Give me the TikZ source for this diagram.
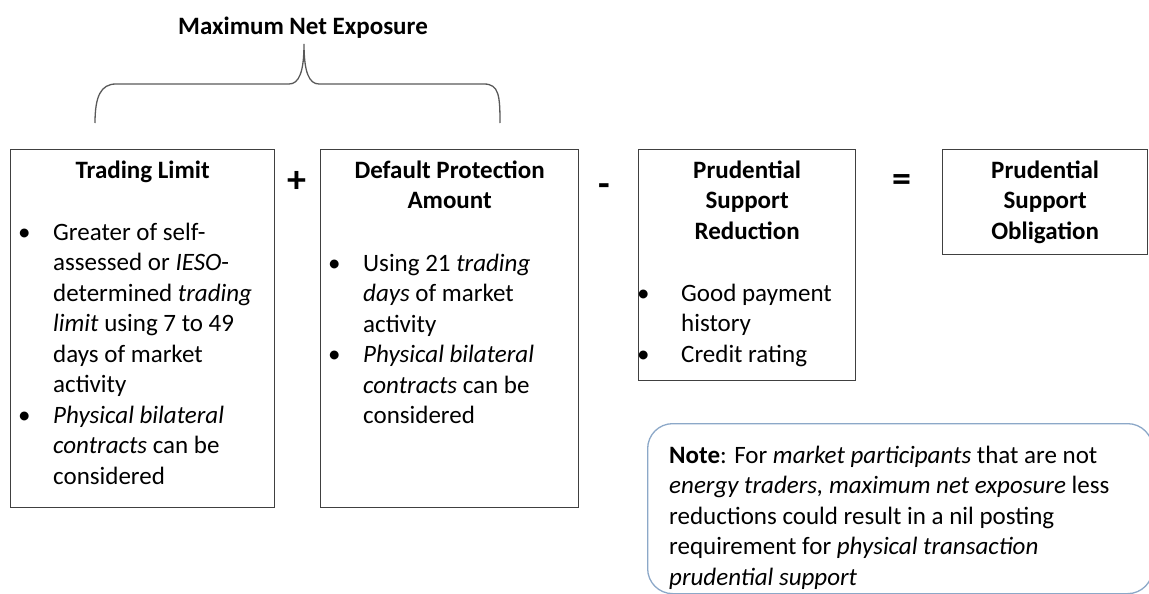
\documentclass[tikz,border=0pt]{standalone}
\usepackage{fontspec}
\setmainfont{Carlito}
\usetikzlibrary{positioning}
\definecolor{boxline}{RGB}{64,64,64}
\definecolor{braceline}{RGB}{89,89,89}
\definecolor{noteline}{RGB}{140,168,200}

\tikzstyle{block} = [rectangle, draw=boxline, line width=1.3pt, anchor=north west, inner sep=0pt]
\tikzstyle{head} = [font=\bfseries\fontsize{25}{30.5}\selectfont, align=flush center, anchor=base, inner sep=0pt,
	execute at begin node={\spaceskip=0pt\xspaceskip=0pt}]
\tikzstyle{items} = [font=\fontsize{25}{30.5}\selectfont, align=flush left, anchor=base west, inner sep=0pt,
	execute at begin node={\spaceskip=0pt\xspaceskip=0pt}]
\tikzstyle{sign} = [font=\bfseries\fontsize{38}{40}\selectfont, inner sep=0pt]

\newcommand{\bul}[1]{\noindent\llap{\makebox[#1pt][l]{\textbullet}}}

\begin{document}
\begin{tikzpicture}[x=1pt,y=-1pt]
	\useasboundingbox (0,0) rectangle (1149,594);
	% Cajas
	\node[block, minimum width=264pt, minimum height=358pt] (limit) at (10,149) {};
	\node[block, minimum width=258pt, minimum height=358pt] (dpa) at (320,149) {};
	\node[block, minimum width=217pt, minimum height=231pt] (psr) at (638,149) {};
	\node[block, minimum width=205pt, minimum height=105pt] (pso) at (942,149) {};
	% Titulos
	\node[head, text width=250pt] (limittitle) at ([yshift=-29pt]limit.north) {Trading Limit};
	\node[head, text width=250pt] (dpatitle) at ([yshift=-29pt]dpa.north) {Default Protection\\Amount};
	\node[head, text width=210pt] (psrtitle) at ([yshift=-29pt]psr.north) {Prudential\\Support\\Reduction};
	\node[head, text width=200pt] (psotitle) at ([yshift=-29pt]pso.north) {Prudential\\Support\\Obligation};
	% Listas
	\node[items, text width=218pt] (limitlist) at ([xshift=43pt, yshift=-91pt]limit.north west) {%
		\bul{35}Greater of self-\\assessed or \textit{IESO}-\\determined \textit{trading}\\\textit{limit} using 7 to 49\\days of market\\activity\par
		\bul{35}\textit{Physical bilateral}\\\textit{contracts} can be\\considered};
	\node[items, text width=212pt] (dpalist) at ([xshift=43pt, yshift=-122pt]dpa.north west) {%
		\bul{35}Using 21 \textit{trading}\\\textit{days} of market\\activity\par
		\bul{35}\textit{Physical bilateral}\\\textit{contracts} can be\\considered};
	\node[items, text width=170pt] (psrlist) at ([xshift=43pt, yshift=-152pt]psr.north west) {%
		\bul{44}Good payment\\history\par
		\bul{44}Credit rating};
	% Signos
	\node[sign] (plus) at (297,182) {+};
	\node[sign] (minus) at (604,190) {-};
	\node[sign] (equals) at (902,183) {=};
	% Llave
	\node[head] (mne) at (303,35) {Maximum Net Exposure};
	\draw[braceline, line width=1.3pt] (95,123) .. controls (95,96) and (101,84) .. (116,84) -- (289,84)
		.. controls (299,84) and (304,72) .. (304,44) .. controls (304,72) and (309,84) .. (319,84)
		-- (484,84) .. controls (499,84) and (500,96) .. (500,123);
	% Nota
	\node[block, draw=noteline, rounded corners=25pt, minimum width=505pt, minimum height=170pt] (note) at (647,423) {};
	\node[items, text width=475pt] (notetext) at ([xshift=22pt, yshift=-40pt]note.north west) {%
		\textbf{Note}: For \textit{market participants} that are not\\
		\textit{energy traders, maximum net exposure} less\\
		reductions could result in a nil posting\\
		requirement for \textit{physical transaction}\\
		\textit{prudential support}};
\end{tikzpicture}
\end{document}
